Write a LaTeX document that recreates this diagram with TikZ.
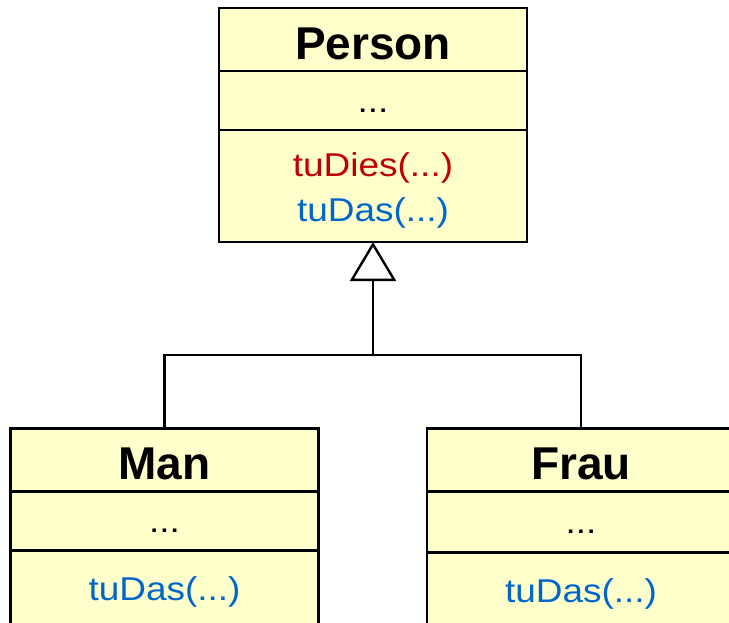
\documentclass[tikz,border=0pt]{standalone}
\usepackage{fontspec}
\setmainfont{Liberation Sans}
\newfontfamily\methfont[FakeStretch=1.12]{Liberation Sans}
\usepackage{xcolor}
\usetikzlibrary{arrows.meta, positioning}

\definecolor{umlfill}{RGB}{255,255,204}
\definecolor{dieRed}{RGB}{192,0,0}
\definecolor{dasBlue}{RGB}{0,102,204}

\begin{document}
\begin{tikzpicture}[
    x=1pt, y=-1pt,
    part/.style={rectangle, draw, line width=2.4pt, fill=umlfill, minimum width=308pt, outer sep=0pt, inner sep=0pt},
    head/.style={part, minimum height=63pt, font=\fontsize{46}{54}\selectfont\bfseries, text height=39pt, text depth=0pt},
    attr/.style={part, minimum height=59pt, font=\methfont\fontsize{33}{45}\selectfont, text height=28pt, text depth=5pt},
    meth/.style={part, font=\methfont\fontsize{33}{45}\selectfont, align=center},
    inherit/.style={-{Triangle[open, length=39pt, width=46pt]}, line width=2.4pt}
]
\useasboundingbox (0,0) rectangle (729,622);
\clip (0,0) rectangle (729,622);

% superclass
\node[head] (personHead) at (373,39.5) {Person};
\node[attr, below=0pt of personHead] (personAttr) {...};
\node[meth, minimum height=112pt, below=0pt of personAttr] (personMeth)
    {\rule{0pt}{33pt}\textcolor{dieRed}{tuDies(...)}\\\textcolor{dasBlue}{tuDas(...)}};

% subclasses
\node[head] (manHead) at (164.5,460) {Man};
\node[attr, below=0pt of manHead] (manAttr) {...};
\node[attr, minimum height=77pt, text=dasBlue, below=0pt of manAttr] (manMeth) {tuDas(...)};

\node[head] (frauHead) at (581,460) {Frau};
\node[attr, minimum height=61pt, below=0pt of frauHead] (frauAttr) {...};
\node[attr, minimum height=77pt, text=dasBlue, below=0pt of frauAttr] (frauMeth) {tuDas(...)};

% generalisation
\coordinate (split) at (373,355);
\draw[inherit] (split) -- (personMeth.south);
\draw[line width=2.4pt] (manHead.north) |- (split) -| (frauHead.north);
\end{tikzpicture}
\end{document}
